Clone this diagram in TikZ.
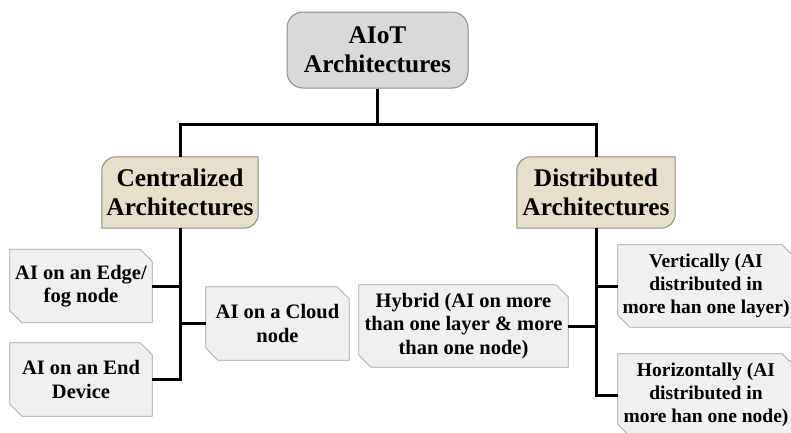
\documentclass[tikz,border=0pt]{standalone}
\usepackage{fontspec}
\setmainfont{Liberation Serif}
\usetikzlibrary{backgrounds}
\definecolor{rootfill}{HTML}{D9D9D9}
\definecolor{headfill}{HTML}{E6DFCC}
\definecolor{leaffill}{HTML}{F0F0F0}
\definecolor{boxedge}{HTML}{8C8C8C}

\begin{document}
\begin{tikzpicture}[
  x=1pt,
  y=1pt,
  every node/.style={align=center, inner sep=0pt},
  bigtext/.style={font=\fontsize{25.4}{28.5}\selectfont\bfseries},
  smalltext/.style={font=\fontsize{20.5}{23.5}\selectfont\bfseries},
  rootbox/.style={bigtext, draw=boxedge, fill=rootfill, line width=1pt,
    rounded corners=16pt, minimum width=181pt, minimum height=76pt},
  headbox/.style={bigtext, minimum width=#1, minimum height=71pt},
  leafbox/.style={smalltext, minimum width=#1, minimum height=73pt},
  tallbox/.style={smalltext, minimum width=#1, minimum height=82pt},
  edgebox/.style={tallbox=#1, font=\fontsize{19.5}{23}\selectfont\bfseries},
  link/.style={line width=3pt, black}
]
  \useasboundingbox (0,0) rectangle (791,-432);
  \clip (0,0) rectangle (791,-432);

  % top
  \node[rootbox] (root) at (377.5,-50) {AIoT\\Architectures};

  % second level
  \node[headbox=156pt] (cent) at (180,-192.5) {Centralized\\Architectures};
  \node[headbox=158pt] (dist) at (596,-192.5) {Distributed\\Architectures};

  % leaves
  \node[leafbox=142pt] (edge) at (81,-286) {AI on an Edge/\\fog node};
  \node[leafbox=142pt] (end) at (81,-379.5) {AI on an End\\Device};
  \node[leafbox=143pt] (cloud) at (277.5,-323.5) {AI on a Cloud\\node};
  \node[tallbox=209pt] (hybrid) at (463.5,-326) {Hybrid (AI on more\\than one layer \& more\\than one node)};
  \node[edgebox=176pt] (vert) at (706,-286) {Vertically (AI\\distributed in\\more han one layer)};
  \node[edgebox=176pt] (horiz) at (706,-395) {Horizontally (AI\\distributed in\\more han one node)};

  \begin{scope}[on background layer]
    \foreach \n in {cent,dist}
      \draw[draw=boxedge, fill=headfill, line width=1pt]
        (\n.south west) -- ([yshift=-14pt]\n.north west)
        arc[start angle=180, end angle=90, radius=14pt]
        -- (\n.north east) -- ([yshift=14pt]\n.south east)
        arc[start angle=0, end angle=-90, radius=14pt] -- cycle;
    \foreach \n in {edge,end,cloud,hybrid,vert,horiz}
      \draw[draw=boxedge!80, fill=leaffill, line width=0.8pt]
        (\n.north west) -- ([xshift=-12pt]\n.north east)
        -- ([yshift=-12pt]\n.north east) -- (\n.south east)
        -- ([xshift=12pt]\n.south west) -- ([yshift=12pt]\n.south west) -- cycle;
  \end{scope}

  % connectors
  \draw[link] (root.south) -- ++(0,-36) coordinate (bus);
  \draw[link] (cent.north) |- (bus) -| (dist.north);
  \draw[link] (cent.south) |- (end.east);
  \draw[link] (edge.east) -- (edge.east -| cent.south);
  \draw[link] (cloud.west) -- (cloud.west -| cent.south);
  \draw[link] (dist.south) |- (horiz.west);
  \draw[link] (vert.west) -- (vert.west -| dist.south);
  \draw[link] (hybrid.east) -- (hybrid.east -| dist.south);
\end{tikzpicture}
\end{document}
